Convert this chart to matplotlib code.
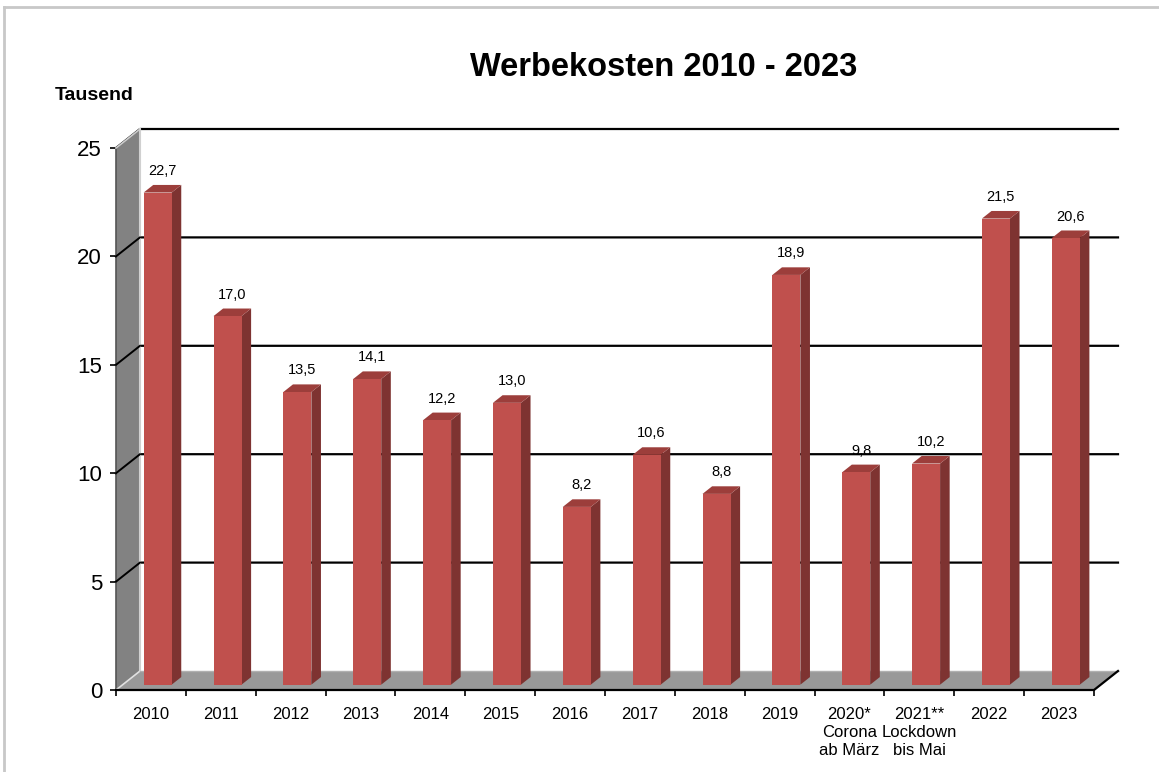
import matplotlib
matplotlib.use("Agg")
import matplotlib.pyplot as plt
from matplotlib.patches import Polygon, Rectangle
from matplotlib.lines import Line2D

plt.rcParams['font.family'] = ['Liberation Sans', 'DejaVu Sans']

categories = ["2010", "2011", "2012", "2013", "2014", "2015", "2016", "2017",
              "2018", "2019", "2020*\nCorona\nab März", "2021**\nLockdown\nbis Mai",
              "2022", "2023"]
values = [22.7, 17.0, 13.5, 14.1, 12.2, 13.0, 8.2, 10.6, 8.8, 18.9, 9.8, 10.2, 21.5, 20.6]
y_ticks = [0, 5, 10, 15, 20, 25]

W, H = 1159, 772
fig = plt.figure(figsize=(W / 100, H / 100), dpi=100)
fig.patch.set_facecolor("white")

# axes covering the front plane of the pseudo-3D chart
x0_px, x1_px = 116, 1094
y0_px, y1_px = 690, 148
ax = fig.add_axes([x0_px / W, 1 - y0_px / H, (x1_px - x0_px) / W, (y0_px - y1_px) / H])
n = len(values)
xmin, xmax = -0.5, n - 0.5
ax.set_xlim(xmin, xmax)
ax.set_ylim(0, 25)
ax.set_facecolor("none")
for s in ax.spines.values():
    s.set_visible(False)

px_x = (x1_px - x0_px) / (xmax - xmin)
px_y = (y0_px - y1_px) / 25.0
dx = 24 / px_x   # depth offset in data units
dy = 19 / px_y

# back wall gridlines + left wall diagonals
for v in y_ticks[1:]:
    ax.add_line(Line2D([xmin, xmin + dx, xmax + dx], [v, v + dy, v + dy],
                       color="black", lw=1.6, clip_on=False, zorder=1))

# left wall
wall = Polygon([(xmin, 0), (xmin, 25), (xmin + dx, 25 + dy), (xmin + dx, dy)],
               closed=True, facecolor="#828282", edgecolor="none", clip_on=False, zorder=2)
ax.add_patch(wall)
ax.add_line(Line2D([xmin + dx, xmin + dx], [dy, 25 + dy], color="#d0d0d0", lw=1.5,
                   clip_on=False, zorder=2.1))
ax.add_line(Line2D([xmin, xmin], [0, 25], color="#555555", lw=1.2, clip_on=False, zorder=2.1))
ax.add_line(Line2D([xmin, xmin + dx], [25, 25 + dy], color="#cccccc", lw=1.2,
                   clip_on=False, zorder=2.1))
for v in y_ticks[1:-1]:
    ax.add_line(Line2D([xmin, xmin + dx], [v, v + dy], color="black", lw=1.4,
                       clip_on=False, zorder=2.2))

# floor
floor = Polygon([(xmin, 0), (xmax, 0), (xmax + dx, dy), (xmin + dx, dy)],
                closed=True, facecolor="#999999", edgecolor="none", clip_on=False, zorder=2.5)
ax.add_patch(floor)
ax.add_line(Line2D([xmin, xmin + dx], [0, dy], color="#e0e0e0", lw=1.2, clip_on=False, zorder=2.6))
ax.add_line(Line2D([xmin + dx, xmax + dx], [dy, dy], color="#b0b0b0", lw=1.0, clip_on=False, zorder=2.6))
ax.add_line(Line2D([xmin, xmax, xmax + dx], [0, 0, dy], color="black", lw=1.6,
                   clip_on=False, zorder=2.7))

# bars
w = 28 / px_x
f0, f1 = 0.28, 0.68
face_c, side_c, top_c = "#C0504D", "#7E3331", "#9C3E3B"
for i, v in enumerate(values):
    xl = i - w / 2 + f0 * dx
    xr = i + w / 2 + f0 * dx
    yb = f0 * dy
    yt = v + f0 * dy
    ddx = (f1 - f0) * dx
    ddy = (f1 - f0) * dy
    ax.add_patch(Polygon([(xr, yb), (xr + ddx, yb + ddy), (xr + ddx, yt + ddy), (xr, yt)],
                         closed=True, facecolor=side_c, edgecolor="none", clip_on=False, zorder=3))
    ax.add_patch(Polygon([(xl, yt), (xr, yt), (xr + ddx, yt + ddy), (xl + ddx, yt + ddy)],
                         closed=True, facecolor=top_c, edgecolor="none", clip_on=False, zorder=3))
    ax.add_patch(Rectangle((xl, yb), w, v, facecolor=face_c, edgecolor="none",
                           clip_on=False, zorder=3.1))
    ax.annotate(f"{v:.1f}".replace(".", ","), xy=((xl + xr + ddx) / 2, yt + ddy),
                xytext=(0, 5), textcoords="offset points", ha="center", va="bottom",
                fontsize=10.5, color="black", zorder=4)

# ticks
ax.set_yticks(y_ticks)
ax.set_yticklabels([str(t) for t in y_ticks], fontsize=16)
ax.tick_params(axis="y", length=4, width=1.2, color="black", pad=6, direction="out")
ax.set_xticks(range(n))
ax.set_xticklabels(categories, fontsize=12, linespacing=1.25, va="top")
ax.tick_params(axis="x", which="major", length=0, pad=12)
ax.set_xticks([k - 0.5 for k in range(n + 1)], minor=True)
ax.tick_params(axis="x", which="minor", length=4, width=1.2, color="black", direction="out")

# texts
fig.text(664 / W, 1 - 68 / H, "Werbekosten 2010 - 2023", fontsize=23.5, fontweight="bold",
         ha="center", va="center")
fig.text(55 / W, 1 - 95 / H, "Tausend", fontsize=14, fontweight="bold", ha="left", va="center")

# outer frame
fig.add_artist(Line2D([4 / W, 4 / W], [0, 1 - 7 / H], transform=fig.transFigure,
                      color="#c8c8c8", lw=2))
fig.add_artist(Line2D([4 / W, 1], [1 - 7 / H, 1 - 7 / H], transform=fig.transFigure,
                      color="#c8c8c8", lw=2))

fig.savefig("out.png", dpi=100, facecolor="white")
